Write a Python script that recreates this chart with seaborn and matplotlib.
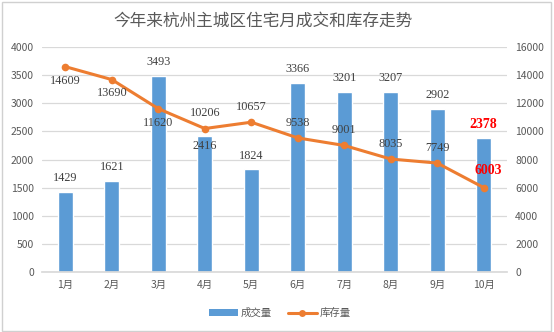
import matplotlib
matplotlib.use("Agg")
import matplotlib.pyplot as plt
import seaborn as sns
import pandas as pd
from matplotlib.patches import Rectangle
from matplotlib.lines import Line2D
from matplotlib.patches import Patch

months = ["1月", "2月", "3月", "4月", "5月", "6月", "7月", "8月", "9月", "10月"]
volume = [1429, 1621, 3493, 2416, 1824, 3366, 3201, 3207, 2902, 2378]
stock = [14609, 13690, 11620, 10206, 10657, 9538, 9001, 8035, 7749, 6003]
stock_label_side = ["below", "below", "below", "above", "above", "above", "above", "above", "above", "above"]
volume_label_side = ["above", "above", "above", "inside", "above", "above", "above", "above", "above", "above"]
title = "今年来杭州主城区住宅月成交和库存走势"
series_names = ["成交量", "库存量"]

sns.set_theme(style="white")
plt.rcParams["font.family"] = ["Noto Sans CJK SC", "DejaVu Sans"]

df = pd.DataFrame({"month": months, "volume": volume, "stock": stock})

fig = plt.figure(figsize=(5.54, 3.32), dpi=100)
ax = fig.add_axes([0.076, 0.181, 0.839, 0.677])
ax2 = ax.twinx()

bar_color = "#5B9BD5"
line_color = "#ED7D31"
grid_color = "#D9D9D9"
tick_color = "#595959"
label_color = "#404040"

sns.barplot(data=df, x="month", y="volume", color=bar_color, width=0.33,
            saturation=1, ax=ax, zorder=2)
ax.set_ylim(0, 4000)
ax.set_yticks(range(0, 4001, 500))
ax.yaxis.grid(True, color=grid_color, linewidth=0.9)
ax.set_axisbelow(True)
for s in ["top", "right", "left"]:
    ax.spines[s].set_visible(False)
ax.spines["bottom"].set_color(grid_color)
ax.set_xlabel("")
ax.set_ylabel("")
ax.tick_params(axis="both", colors=tick_color, labelsize=7.5, length=0, pad=6)

xs = list(range(len(months)))
sns.lineplot(x=xs, y=stock, color=line_color, linewidth=2.2, marker="o",
             markersize=5.5, markeredgewidth=0, ax=ax2, zorder=3)
ax2.set_ylim(0, 16000)
ax2.set_yticks(range(0, 16001, 2000))
for s in ["top", "right", "left", "bottom"]:
    ax2.spines[s].set_visible(False)
ax2.tick_params(axis="y", colors=tick_color, labelsize=7.5, length=0, pad=6)
ax2.set_ylabel("")
ax.set_xlim(-0.5, len(months) - 0.5)

n = len(months)


def label_style(last):
    if last:
        return dict(family="Liberation Serif", fontsize=10, color="#FF0000",
                    fontweight="bold")
    return dict(family="Liberation Serif", fontsize=8.8, color=label_color)


for i, v in enumerate(volume):
    last = i == n - 1
    off = (0, 10) if volume_label_side[i] == "above" else (0, -7)
    ax.annotate(str(v), (i, v), xytext=off, textcoords="offset points",
                ha="center", va="center", **label_style(last))
for i, v in enumerate(stock):
    last = i == n - 1
    off = (0, 11) if stock_label_side[i] == "above" else (0, -10)
    if last:
        off = (3, 12.5)
    ax2.annotate(str(v), (i, v), xytext=off, textcoords="offset points",
                 ha="center", va="center", **label_style(last))

fig.text(0.475, 0.935, title, ha="center", va="center", fontsize=12,
         color="#595959")

handles = [Patch(facecolor=bar_color, edgecolor="none"),
           Line2D([0], [0], color=line_color, linewidth=2.2, marker="o",
                  markersize=5, markeredgewidth=0)]
fig.legend(handles, series_names, loc="center", bbox_to_anchor=(0.505, 0.057),
           ncol=2, frameon=False, fontsize=7.5, labelcolor=tick_color,
           handlelength=2.8, handleheight=0.6, columnspacing=1.5, handletextpad=0.3)

fig.patches.append(Rectangle((0.003, 0.004), 0.992, 0.99, transform=fig.transFigure,
                             fill=False, edgecolor="#D0D0D0", linewidth=1))

fig.savefig("out.png", dpi=100, facecolor="white")
